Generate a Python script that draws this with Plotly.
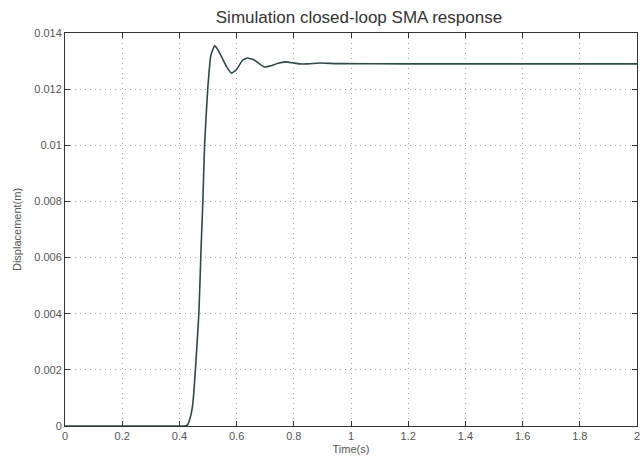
import plotly.graph_objects as go

time_s = [0, 0.2, 0.4, 0.418, 0.428, 0.438, 0.447, 0.456, 0.468, 0.476, 0.482, 0.488, 0.499, 0.51,
          0.523, 0.535, 0.55, 0.565, 0.582, 0.6, 0.62, 0.638, 0.66, 0.68, 0.697,
          0.72, 0.745, 0.77, 0.795, 0.819, 0.85, 0.889, 0.95, 1.2, 1.6, 2.0]
displacement_m = [0, 0, 0, 0, 0.00003, 0.0003, 0.0008, 0.002, 0.004, 0.0064, 0.008, 0.010, 0.012, 0.0132,
                  0.01354, 0.0134, 0.0131, 0.0128, 0.01257, 0.0127, 0.01302, 0.01311, 0.01305,
                  0.0129, 0.01279, 0.01283, 0.01292, 0.01297, 0.01294, 0.0129, 0.0129,
                  0.01293, 0.01291, 0.0129, 0.0129, 0.0129]

x_ticks = [0, 0.2, 0.4, 0.6, 0.8, 1, 1.2, 1.4, 1.6, 1.8, 2]
x_labels = ["0", "0.2", "0.4", "0.6", "0.8", "1", "1.2", "1.4", "1.6", "1.8", "2"]
y_ticks = [0, 0.002, 0.004, 0.006, 0.008, 0.01, 0.012, 0.014]
y_labels = ["0", "0.002", "0.004", "0.006", "0.008", "0.01", "0.012", "0.014"]

fig = go.Figure()
fig.add_trace(go.Scatter(x=time_s, y=displacement_m, mode="lines",
                         line=dict(color="#2e4a48", width=1.6, shape="spline", smoothing=0.4),
                         showlegend=False))

axis_common = dict(showline=True, linecolor="#333", linewidth=1, mirror="allticks",
                   ticks="inside", ticklen=5, tickcolor="#333",
                   showgrid=True, gridcolor="#a8a8a8", griddash="1px,4px", gridwidth=1,
                   zeroline=False, ticklabeloverflow="allow",
                   tickfont=dict(family="Liberation Sans", size=11, color="#555"))

fig.update_layout(
    width=641, height=464,
    margin=dict(l=65, r=1, t=33, b=38),
    paper_bgcolor="white", plot_bgcolor="white",
    title=dict(text="Simulation closed-loop SMA response", x=0.56, xanchor="center",
               y=0.963, yanchor="middle",
               font=dict(family="Liberation Sans", size=17, color="#333")),
    xaxis=dict(range=[0, 2], tickvals=x_ticks, ticktext=x_labels,
               title=dict(text="Time(s)", standoff=4,
                          font=dict(family="Liberation Sans", size=11, color="#555")),
               **axis_common),
    yaxis=dict(range=[0, 0.014], tickvals=y_ticks, ticktext=y_labels,
               title=dict(text="Displacement(m)", standoff=10,
                          font=dict(family="Liberation Sans", size=11, color="#555")),
               **axis_common),
)

fig.write_html("out.html")
